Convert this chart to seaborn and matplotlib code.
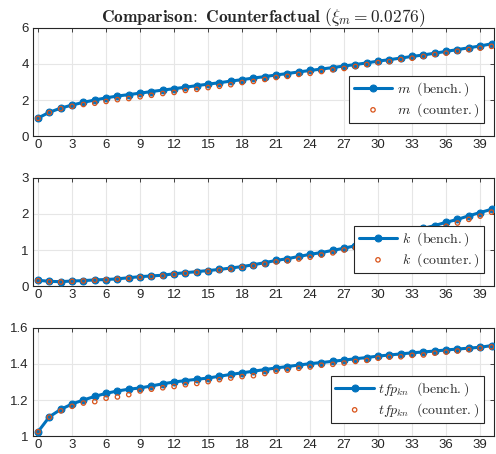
import numpy as np
import pandas as pd
import matplotlib
matplotlib.use("Agg")
import matplotlib.pyplot as plt
import seaborn as sns

t = list(range(41))

m_bench = [1.00, 1.32, 1.55, 1.72, 1.87, 2.00, 2.12, 2.22, 2.30, 2.38, 2.47,
           2.55, 2.63, 2.71, 2.80, 2.88, 2.96, 3.05, 3.13, 3.22, 3.30, 3.39,
           3.47, 3.56, 3.64, 3.72, 3.80, 3.89, 3.97, 4.06, 4.16, 4.24, 4.33,
           4.42, 4.50, 4.60, 4.70, 4.80, 4.90, 5.00, 5.12]
m_counter = [0.98, 1.30, 1.52, 1.65, 1.75, 1.82, 1.92, 2.02, 2.08, 2.18, 2.26,
             2.36, 2.42, 2.53, 2.59, 2.69, 2.76, 2.85, 2.97, 3.03, 3.14, 3.25,
             3.31, 3.42, 3.48, 3.58, 3.68, 3.75, 3.86, 3.97, 4.08, 4.13, 4.25,
             4.32, 4.42, 4.53, 4.60, 4.71, 4.80, 4.88, 4.98]

k_bench = [0.16, 0.13, 0.12, 0.14, 0.15, 0.17, 0.18, 0.20, 0.23, 0.26, 0.28,
           0.30, 0.34, 0.37, 0.40, 0.43, 0.46, 0.50, 0.54, 0.59, 0.65, 0.71,
           0.76, 0.82, 0.88, 0.93, 0.99, 1.05, 1.12, 1.19, 1.26, 1.34, 1.44,
           1.53, 1.60, 1.68, 1.77, 1.85, 1.95, 2.04, 2.13]
k_counter = [0.15, 0.12, 0.11, 0.13, 0.14, 0.16, 0.17, 0.19, 0.21, 0.24, 0.26,
             0.28, 0.32, 0.35, 0.38, 0.41, 0.44, 0.47, 0.52, 0.56, 0.61, 0.67,
             0.70, 0.75, 0.80, 0.86, 0.92, 1.00, 1.06, 1.12, 1.19, 1.27, 1.34,
             1.42, 1.49, 1.57, 1.66, 1.75, 1.85, 1.94, 2.05]

tfp_bench = [1.024, 1.107, 1.148, 1.178, 1.200, 1.220, 1.237, 1.250, 1.260,
             1.267, 1.278, 1.290, 1.300, 1.308, 1.315, 1.322, 1.332, 1.342,
             1.351, 1.360, 1.369, 1.378, 1.386, 1.394, 1.402, 1.408, 1.415,
             1.422, 1.429, 1.436, 1.444, 1.450, 1.456, 1.462, 1.467, 1.472,
             1.478, 1.483, 1.488, 1.493, 1.502]
tfp_counter = [1.024, 1.105, 1.140, 1.165, 1.183, 1.191, 1.210, 1.217, 1.230,
               1.250, 1.260, 1.268, 1.275, 1.285, 1.292, 1.302, 1.313, 1.322,
               1.330, 1.335, 1.347, 1.360, 1.366, 1.376, 1.383, 1.393, 1.398,
               1.405, 1.414, 1.420, 1.432, 1.438, 1.440, 1.448, 1.450, 1.460,
               1.466, 1.472, 1.480, 1.488, 1.495]

xticks = list(range(0, 40, 3))
panels = [
    (m_bench, m_counter, r"$m$", [0, 2, 4, 6], (0, 6), ["0", "2", "4", "6"]),
    (k_bench, k_counter, r"$k$", [0, 1, 2, 3], (0, 3), ["0", "1", "2", "3"]),
    (tfp_bench, tfp_counter, r"$tfp_{kn}$", [1, 1.2, 1.4, 1.6], (1, 1.6),
     ["1", "1.2", "1.4", "1.6"]),
]

sns.set_style("white")
plt.rcParams["font.family"] = ["Liberation Sans", "DejaVu Sans"]
plt.rcParams["mathtext.fontset"] = "cm"

BLUE = "#0072BD"
ORANGE = "#D95319"
AXC = "#262626"

fig = plt.figure(figsize=(4.96, 4.54), dpi=100)
bottoms = [0.7004, 0.370, 0.0396]
L, W, H = 0.0665, 0.929, 0.238

for (bench, counter, name, yt, ylim, ytl), b in zip(panels, bottoms):
    ax = fig.add_axes([L, b, W, H])
    df = pd.DataFrame({"t": t, "bench": bench, "counter": counter})
    sns.lineplot(data=df, x="t", y="bench", ax=ax, color=BLUE, lw=2.2,
                 marker="o", markersize=5, markeredgecolor=BLUE,
                 label=name + r"$\;\ \mathrm{(bench.)}$", zorder=3)
    sns.scatterplot(data=df, x="t", y="counter", ax=ax, marker="o",
                    facecolor="none", edgecolor=ORANGE, s=10, linewidth=0.9,
                    label=name + r"$\;\ \mathrm{(counter.)}$", zorder=4)
    ax.set_xlim(-0.45, 40.2)
    ax.set_ylim(*ylim)
    ax.set_xticks(xticks)
    ax.set_yticks(yt)
    ax.set_yticklabels(ytl)
    ax.set_xlabel("")
    ax.set_ylabel("")
    ax.grid(True, color="#e6e6e6", lw=0.8)
    ax.set_axisbelow(True)
    for s in ax.spines.values():
        s.set_color(AXC)
        s.set_linewidth(0.8)
        s.set_visible(True)
    ax.tick_params(direction="in", length=3, width=0.6, colors=AXC,
                   labelsize=9.5, top=True, right=True, pad=3)
    ax.tick_params(axis="x", pad=2)
    leg = ax.legend(loc="lower right", bbox_to_anchor=(0.978, 0.12),
                    borderaxespad=0, fontsize=10, handlelength=2.8,
                    frameon=True, fancybox=False, edgecolor=AXC,
                    framealpha=1, borderpad=0.3, labelspacing=0.2,
                    handletextpad=0.3)
    leg.get_frame().set_linewidth(0.8)
    if b == bottoms[0]:
        ax.set_title(r"$\mathbf{Comparison\!:\ Counterfactual}\ (\xi_m = 0.0276)$",
                     fontsize=12.5, pad=4)

fig.savefig("out.png", dpi=100)
